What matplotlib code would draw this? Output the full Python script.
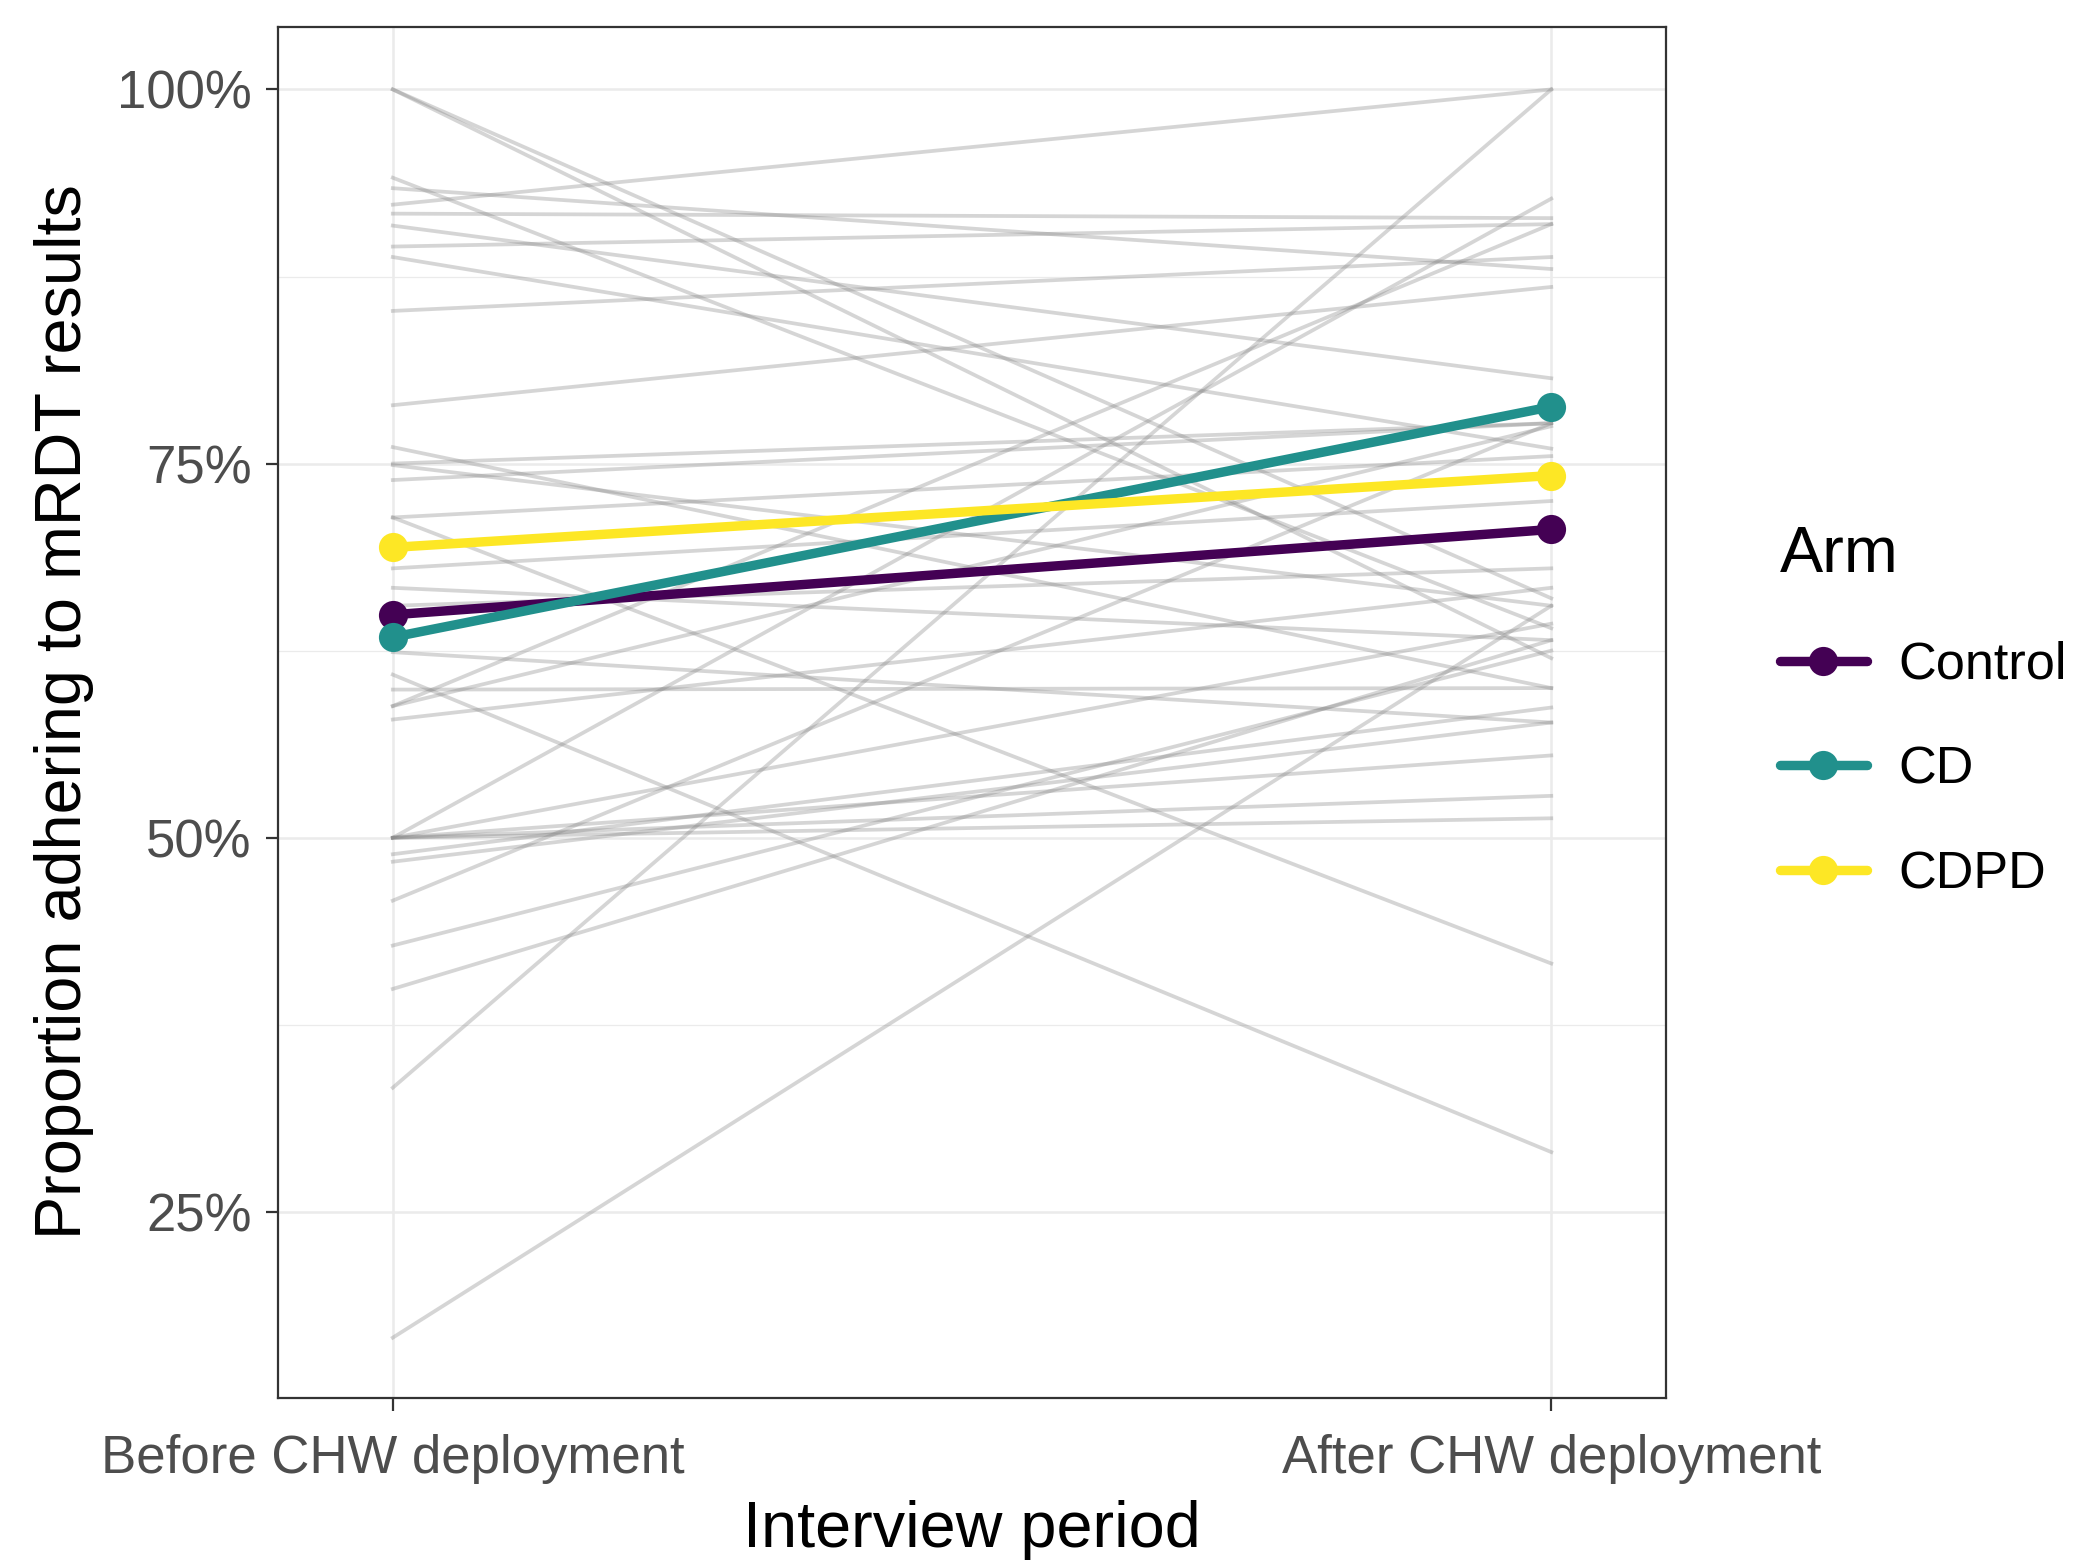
import matplotlib
matplotlib.use("Agg")
import matplotlib.pyplot as plt
from matplotlib.ticker import FixedLocator, FuncFormatter

plt.rcParams['font.family'] = ['Liberation Sans', 'DejaVu Sans']

# data (percent adhering)
periods = ["Before CHW deployment", "After CHW deployment"]

# one grey line per community: value before, value after
before = [100, 100, 94.1, 93.4, 92.3, 91.7, 90.9, 89.5, 88.8, 85.2,
          78.9, 76.1, 75.0, 74.9, 73.9, 71.4, 71.4, 68.0, 66.7, 65.5,
          62.4, 60.9, 59.9, 58.8, 58.8, 57.9, 50.0, 50.0, 50.0, 50.0,
          50.0, 48.9, 48.4, 45.8, 42.8, 39.9, 33.3, 16.6]
after = [66.0, 62.0, 64.0, 88.0, 100, 91.4, 80.7, 91.0, 76.0, 88.8,
         86.8, 60.0, 77.7, 65.5, 77.7, 41.6, 75.5, 72.5, 63.2, 68.0,
         57.7, 29.0, 60.0, 91.0, 77.5, 66.7, 92.7, 52.8, 55.5, 51.3,
         64.3, 58.7, 57.7, 77.7, 62.5, 63.2, 100, 65.5]

arms = ["Control", "CD", "CDPD"]
arm_before = [64.9, 63.4, 69.4]
arm_after = [70.6, 78.8, 74.2]
arm_colors = ["#440154", "#21908C", "#FDE725"]

y_ticks = [25, 50, 75, 100]
y_minor = [37.5, 62.5, 87.5]

fig = plt.figure(figsize=(10.385, 7.81), dpi=200)
ax = fig.add_axes([0.1339, 0.1053, 0.6682, 0.8777])

xs = [0, 1]
for b, a in zip(before, after):
    ax.plot(xs, [b, a], color="#7f7f7f", alpha=0.32, lw=1.35, zorder=2)

handles = []
for name, b, a, c in zip(arms, arm_before, arm_after, arm_colors):
    h, = ax.plot(xs, [b, a], color=c, lw=3.4, marker="o", ms=9.5,
                 solid_capstyle="round", zorder=3, label=name)
    handles.append(h)

ax.set_xlim(-0.099, 1.099)
ax.set_ylim(12.6, 104.2)
ax.set_xticks(xs)
ax.set_xticklabels(periods)
ax.yaxis.set_major_locator(FixedLocator(y_ticks))
ax.yaxis.set_minor_locator(FixedLocator(y_minor))
ax.yaxis.set_major_formatter(FuncFormatter(lambda v, p: f"{v:.0f}%"))

ax.grid(True, which="major", color="#EBEBEB", lw=0.9, zorder=0)
ax.grid(True, which="minor", axis="y", color="#EBEBEB", lw=0.45, zorder=0)
ax.set_axisbelow(True)
for s in ax.spines.values():
    s.set_color("#333333")
    s.set_linewidth(0.8)

ax.tick_params(axis="both", which="major", length=4.5, width=0.8,
               color="#333333", labelsize=19, labelcolor="#4D4D4D", pad=5)
ax.tick_params(axis="x", which="major", pad=8.5)
ax.tick_params(axis="y", which="minor", length=0)

ax.set_xlabel("Interview period", fontsize=23.3, color="black", labelpad=6)
ax.set_ylabel("Proportion adhering to mRDT results", fontsize=23.3, color="black")
ax.yaxis.set_label_coords(-0.133, 0.5)

leg = fig.legend(handles=handles, title="Arm", loc="center left",
                 bbox_to_anchor=(0.847, 0.544), frameon=False,
                 fontsize=18.8, title_fontsize=23.3, handlelength=1.66,
                 handletextpad=0.6, labelspacing=1.07, borderaxespad=0)
leg._legend_box.align = "left"

fig.savefig("out.png", dpi=200)
